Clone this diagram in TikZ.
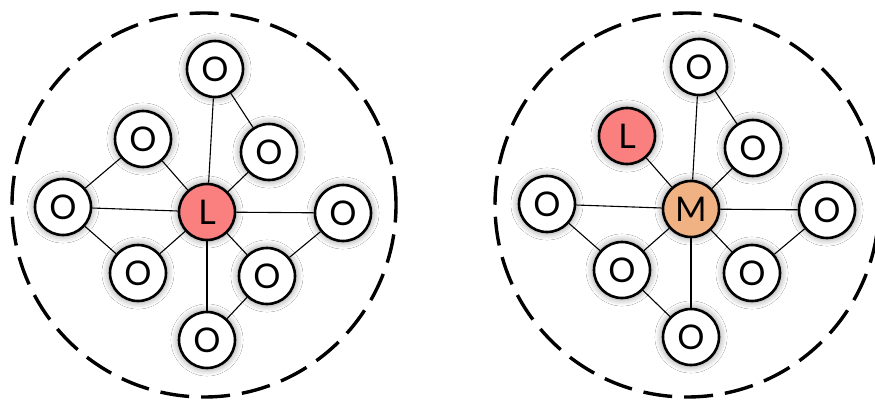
\documentclass[tikz,border=0pt]{standalone}
\usepackage{fontspec}
\setmainfont{Lato}
\usetikzlibrary{shadows.blur}
\definecolor{leadred}{RGB}{250,128,128}
\definecolor{midpeach}{RGB}{240,178,130}
\tikzset{
  peer/.style={circle, draw=black, line width=2.6pt, fill=white, minimum size=56pt, inner sep=0pt,
    font=\fontsize{34}{34}\selectfont,
    blur shadow={shadow xshift=0pt, shadow yshift=0pt, shadow blur radius=6pt, shadow opacity=40, shadow scale=1.06}},
  leader/.style={peer, fill=leadred},
  mid/.style={peer, fill=midpeach},
  link/.style={line width=1.1pt},
  zone/.style={draw=black, line width=3.4pt, dash pattern=on 29pt off 12pt}
}
\begin{document}
\begin{tikzpicture}[x=1pt, y=-1pt]
  \useasboundingbox[fill=white] (0,0) rectangle (875,399);
  % dashed boundaries
  \draw[zone] (204,205) circle[radius=192pt];
  \draw[zone] (687,205) circle[radius=192pt];

  % left group
  \node[peer] (a1) at (215,69) {O};
  \node[peer] (a2) at (143,139) {O};
  \node[peer] (a3) at (269,152) {O};
  \node[peer] (a4) at (63,207) {O};
  \node[peer] (a5) at (343,213) {O};
  \node[peer] (a6) at (138,273) {O};
  \node[peer] (a7) at (267,276) {O};
  \node[peer] (a8) at (207,340) {O};
  \node[leader] (aL) at (207,212) {L};

  % right group
  \node[peer] (b1) at (699,67) {O};
  \node[peer] (b3) at (753,148) {O};
  \node[peer] (b4) at (547,204) {O};
  \node[peer] (b5) at (827,210) {O};
  \node[peer] (b6) at (622,270) {O};
  \node[peer] (b7) at (752,273) {O};
  \node[peer] (b8) at (691,337) {O};
  \node[leader] (bL) at (627,136) {L};
  \node[mid] (bM) at (691,209) {M};

  % connections, left
  \foreach \n in {a1,a2,a3,a4,a5,a6,a7,a8} \draw[link] (aL) -- (\n);
  \draw[link] (a1) -- (a3);
  \draw[link] (a2) -- (a4);
  \draw[link] (a4) -- (a6);
  \draw[link] (a5) -- (a7);
  \draw[link] (a7) -- (a8);

  % connections, right
  \foreach \n in {bL,b1,b3,b4,b5,b6,b7,b8} \draw[link] (bM) -- (\n);
  \draw[link] (b1) -- (b3);
  \draw[link] (b4) -- (b6);
  \draw[link] (b6) -- (b8);
  \draw[link] (b5) -- (b7);
\end{tikzpicture}
\end{document}
